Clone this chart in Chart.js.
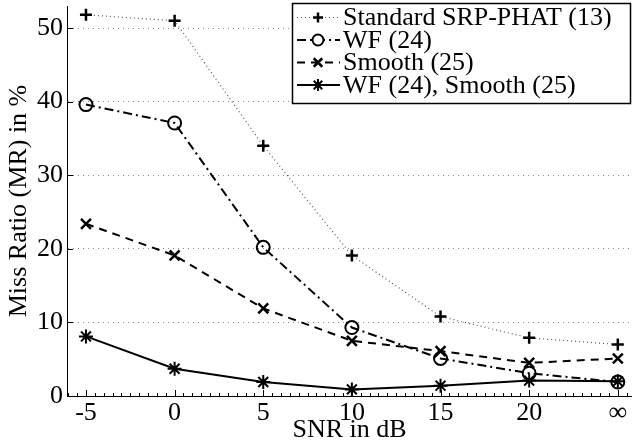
<!DOCTYPE html>
<html>
<head>
<meta charset="utf-8">
<script src="https://cdn.jsdelivr.net/npm/chart.js@4/dist/chart.umd.min.js"></script>
<style>
html, body { margin: 0; padding: 0; background: #fff; }
</style>
</head>
<body>
<canvas id="chartCanvas" width="632" height="443"></canvas>
<script>
// SNR positions, 25 is used as the slot for "infinity"
const snrValues = [-5, 0, 5, 10, 15, 20, 25];
const xTickLabels = ['-5', '0', '5', '10', '15', '20', '\u221e'];
const yTickValues = [0, 10, 20, 30, 40, 50];

const seriesNames = ['Standard SRP-PHAT (13)', 'WF (24)', 'Smooth (25)', 'WF (24), Smooth (25)'];
const srpPhat = [51.8, 51.0, 34.0, 19.1, 10.8, 7.9, 7.0];
const wf = [39.6, 37.1, 20.2, 9.3, 5.1, 3.1, 1.9];
const smooth = [23.4, 19.1, 11.9, 7.5, 6.1, 4.5, 5.1];
const wfSmooth = [8.1, 3.7, 1.9, 0.9, 1.4, 2.1, 2.0];

const FONT = "'Liberation Serif', 'Times New Roman', serif";

function toPoints(vals) {
    return vals.map((v, i) => ({ x: snrValues[i], y: v }));
}

const styles = [
    { dash: [1, 3], width: 1.2, color: '#555', point: 'cross', radius: 6, pw: 2.5 },
    { dash: [9, 4, 2, 4], width: 2, color: '#000', point: 'circle', radius: 6.5, pw: 2 },
    { dash: [8, 6], width: 2, color: '#000', point: 'crossRot', radius: 7, pw: 2.5 },
    { dash: [], width: 2, color: '#000', point: 'star', radius: 7, pw: 2 }
];

const allSeries = [srpPhat, wf, smooth, wfSmooth];

const datasets = allSeries.map((vals, i) => ({
    label: seriesNames[i],
    data: toPoints(vals),
    borderColor: styles[i].color,
    borderWidth: styles[i].width,
    borderDash: styles[i].dash,
    pointStyle: styles[i].point,
    pointRadius: styles[i].radius,
    pointBorderWidth: styles[i].pw,
    pointBorderColor: '#000',
    pointBackgroundColor: 'rgba(0,0,0,0)',
    fill: false,
    tension: 0,
    clip: false
}));

// ticks pointing into the plot, plus minor ticks on the x axis
const innerTicks = {
    id: 'innerTicks',
    afterDraw(chart) {
        const ctx = chart.ctx;
        const xs = chart.scales.x, ys = chart.scales.y;
        const area = chart.chartArea;
        ctx.save();
        ctx.strokeStyle = '#000';
        ctx.lineWidth = 1;
        ctx.beginPath();
        for (let v = -6; v <= 25.5; v += 0.5) {
            const px = Math.round(xs.getPixelForValue(v)) + 0.5;
            if (px < area.left || px > area.right) continue;
            const len = snrValues.includes(v) ? 6 : 3;
            ctx.moveTo(px, area.bottom);
            ctx.lineTo(px, area.bottom - len);
        }
        yTickValues.forEach(v => {
            const py = Math.round(ys.getPixelForValue(v)) + 0.5;
            ctx.moveTo(area.left, py);
            ctx.lineTo(area.left + 6, py);
        });
        ctx.stroke();
        ctx.restore();
    }
};

function drawMarker(ctx, style, x, y, r) {
    ctx.beginPath();
    const d = r * Math.SQRT1_2;
    if (style === 'circle') {
        ctx.arc(x, y, r, 0, Math.PI * 2);
    }
    if (style === 'cross' || style === 'star') {
        ctx.moveTo(x - r, y); ctx.lineTo(x + r, y);
        ctx.moveTo(x, y - r); ctx.lineTo(x, y + r);
    }
    if (style === 'crossRot' || style === 'star') {
        ctx.moveTo(x - d, y - d); ctx.lineTo(x + d, y + d);
        ctx.moveTo(x - d, y + d); ctx.lineTo(x + d, y - d);
    }
    ctx.stroke();
}

// legend box with line samples
const lineLegend = {
    id: 'lineLegend',
    afterDraw(chart) {
        const ctx = chart.ctx;
        const left = 292, top = 3, w = 338, rowH = 22.5;
        const h = rowH * seriesNames.length + 10;
        ctx.save();
        ctx.fillStyle = '#fff';
        ctx.fillRect(left, top, w, h);
        ctx.strokeStyle = '#000';
        ctx.lineWidth = 1.5;
        ctx.strokeRect(left + 0.5, top + 0.5, w, h);
        ctx.font = '26px ' + FONT;
        ctx.textBaseline = 'middle';
        ctx.textAlign = 'left';
        seriesNames.forEach((name, i) => {
            const st = styles[i];
            const y = top + 14.5 + i * rowH;
            ctx.strokeStyle = st.color;
            ctx.lineWidth = st.width;
            ctx.setLineDash(st.dash);
            ctx.beginPath();
            ctx.moveTo(left + 5, y);
            ctx.lineTo(left + 48, y);
            ctx.stroke();
            ctx.setLineDash([]);
            ctx.strokeStyle = '#000';
            ctx.lineWidth = st.pw;
            ctx.fillStyle = '#fff';
            if (st.point === 'circle') {
                ctx.beginPath();
                ctx.arc(left + 26, y, st.radius - 1, 0, Math.PI * 2);
                ctx.fill();
            }
            drawMarker(ctx, st.point, left + 26, y, st.radius - 1);
            ctx.fillStyle = '#000';
            ctx.fillText(name, left + 51, y + 1);
        });
        ctx.restore();
    }
};

const ctx = document.getElementById('chartCanvas').getContext('2d');
const chart = new Chart(ctx, {
    type: 'line',
    data: { datasets: datasets },
    options: {
        responsive: false,
        animation: false,
        devicePixelRatio: 1,
        layout: { autoPadding: false, padding: { top: 6, right: 0, left: 0, bottom: 0 } },
        plugins: {
            legend: { display: false },
            tooltip: { enabled: false }
        },
        scales: {
            x: {
                type: 'linear',
                min: -6.07,
                max: 25.8,
                afterBuildTicks: s => { s.ticks = snrValues.map(v => ({ value: v })); },
                afterFit: s => {
                    s.height = 47;
                    s.paddingLeft = 0;
                    s.paddingRight = 0;
                },
                grid: { display: false, drawTicks: false },
                border: { display: true, color: '#000', width: 1 },
                ticks: {
                    color: '#000',
                    padding: 2,
                    maxRotation: 0,
                    font: { family: FONT, size: 26 },
                    callback: (v) => xTickLabels[snrValues.indexOf(v)]
                },
                title: {
                    display: true,
                    text: 'SNR in dB',
                    color: '#000',
                    font: { family: FONT, size: 26, lineHeight: 1 },
                    padding: { top: 0, bottom: 0 }
                }
            },
            y: {
                min: 0,
                max: 53,
                afterBuildTicks: s => { s.ticks = yTickValues.map(v => ({ value: v })); },
                afterFit: s => {
                    s.width = 67;
                    s.paddingTop = 0;
                    s.paddingBottom = 0;
                },
                grid: {
                    drawTicks: false,
                    color: c => c.tick && c.tick.value === 0 ? 'rgba(0,0,0,0)' : '#888',
                    lineWidth: 1
                },
                // border.dash sets the dash of the grid lines in v4
                border: { display: true, color: '#000', width: 1, dash: [1, 4] },
                ticks: {
                    color: '#000',
                    padding: 4,
                    font: { family: FONT, size: 26 }
                },
                title: {
                    display: true,
                    text: 'Miss Ratio (MR) in %',
                    color: '#000',
                    font: { family: FONT, size: 26, lineHeight: 1 },
                    padding: { top: 6, bottom: 0 }
                }
            }
        }
    },
    plugins: [innerTicks, lineLegend]
});
</script>
</body>
</html>
